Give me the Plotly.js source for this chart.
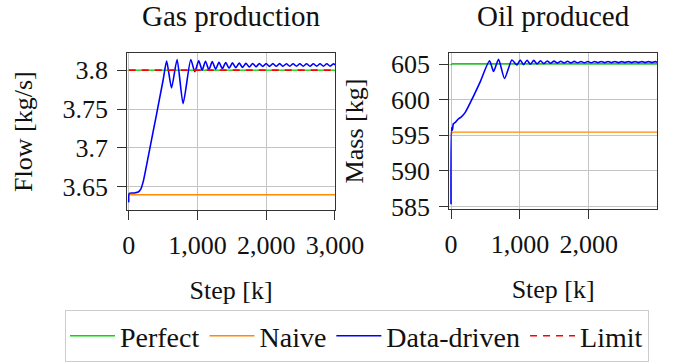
<!DOCTYPE html>
<html>
<head>
<meta charset="utf-8">
<script src="https://cdn.plot.ly/plotly-3.0.1.min.js"></script>
<style>html,body{margin:0;padding:0;background:#fff;}#chart{width:674px;height:362px;}</style>
</head>
<body>
<div id="chart"></div>
<script>
// ---------- Gas production (left) ----------
const gasPerfectX = [0, 3000];
const gasPerfectY = [3.8, 3.8];
const gasNaiveX = [0, 3000];
const gasNaiveY = [3.6398, 3.6398];
const gasLimitX = [0, 3000];
const gasLimitY = [3.8, 3.8];
const gasDataX = [0, 9, 60, 100, 139, 174, 212, 300, 400, 500, 552, 623, 704, 791, 903, 961, 1019,
  1068, 1117, 1166, 1215, 1264, 1313, 1362, 1411, 1460, 1509, 1558, 1607, 1656, 1705, 1754, 1803, 1852,
  1901, 1950, 1999, 2048, 2097, 2146, 2195, 2244, 2293, 2342, 2391, 2440, 2489, 2538, 2587, 2636, 2685,
  2734, 2783, 2832, 2881, 2930, 2979, 3000];
const gasDataY = [3.630, 3.6417, 3.6420, 3.6425, 3.6434, 3.6467, 3.657, 3.696, 3.741, 3.787, 3.8116,
  3.777, 3.8136, 3.757, 3.8136, 3.798, 3.8120,
  3.8000, 3.8115, 3.8005, 3.8110, 3.8012, 3.8102, 3.8018, 3.8097, 3.8025, 3.8093, 3.8030, 3.8090, 3.8035,
  3.8088, 3.8040, 3.8086, 3.8044, 3.8085, 3.8046, 3.8084, 3.8048, 3.8083, 3.8049, 3.8083, 3.8049, 3.8082,
  3.8050, 3.8082, 3.8050, 3.8082, 3.8050, 3.8082, 3.8050, 3.8081, 3.8051, 3.8081, 3.8051, 3.8081, 3.8051,
  3.8080, 3.8068];

// ---------- Oil produced (right) ----------
const oilPerfectX = [0, 15, 2990];
const oilPerfectY = [604.85, 605.07, 605.07];
const oilNaiveX = [0, 25, 2990];
const oilNaiveY = [595.1, 595.45, 595.45];
const oilDataX = [0, 8, 20, 33, 70, 106, 150, 204, 325, 422, 559, 618, 690, 777, 884, 957, 1005,
  1054, 1103, 1152, 1201, 1250, 1299, 1348, 1397, 1446, 1495, 1544, 1593, 1642, 1691, 1740, 1789, 1838,
  1887, 1936, 1985, 2034, 2083, 2132, 2181, 2230, 2279, 2328, 2377, 2426, 2475, 2524, 2573, 2622, 2671,
  2720, 2769, 2818, 2867, 2916, 2965, 2990];
const oilDataY = [585.3, 596.1, 595.7, 596.6, 596.9, 597.3, 597.6, 598.2, 600.5, 602.5, 605.5, 604.0, 605.7,
  603.0, 605.6, 604.9, 605.6,
  604.95, 605.58, 605.00, 605.55, 605.05, 605.50, 605.10, 605.47, 605.14, 605.45, 605.17, 605.43, 605.19,
  605.42, 605.20, 605.41, 605.21, 605.40, 605.22, 605.40, 605.22, 605.39, 605.23, 605.39, 605.23, 605.39,
  605.23, 605.39, 605.23, 605.38, 605.24, 605.38, 605.24, 605.38, 605.24, 605.38, 605.24, 605.38, 605.24,
  605.38, 605.30];

const gasYTicks = [3.65, 3.7, 3.75, 3.8];
const oilYTicks = [585, 590, 595, 600, 605];

const FONT = 'Liberation Serif, Times New Roman, serif';
const GREEN = '#00dd00', ORANGE = '#ff8c00', BLUE = '#0000ff', RED = '#ff0000';

const traces = [
  {x: gasPerfectX, y: gasPerfectY, name: 'Perfect', mode: 'lines', line: {color: GREEN, width: 1.4}, xaxis: 'x', yaxis: 'y', legendgroup: 'p'},
  {x: gasNaiveX, y: gasNaiveY, name: 'Naive', mode: 'lines', line: {color: ORANGE, width: 1.4}, xaxis: 'x', yaxis: 'y', legendgroup: 'n'},
  {x: gasDataX, y: gasDataY, name: 'Data-driven', mode: 'lines', line: {color: BLUE, width: 1.6, shape: 'spline', smoothing: 0.6}, xaxis: 'x', yaxis: 'y', legendgroup: 'd'},
  {x: gasLimitX, y: gasLimitY, name: 'Limit', mode: 'lines', line: {color: RED, width: 1.6, dash: '7px,6px'}, xaxis: 'x', yaxis: 'y', legendgroup: 'l'},
  {x: oilPerfectX, y: oilPerfectY, name: 'Perfect', mode: 'lines', line: {color: GREEN, width: 1.4}, xaxis: 'x2', yaxis: 'y2', legendgroup: 'p', showlegend: false},
  {x: oilNaiveX, y: oilNaiveY, name: 'Naive', mode: 'lines', line: {color: ORANGE, width: 1.4}, xaxis: 'x2', yaxis: 'y2', legendgroup: 'n', showlegend: false},
  {x: oilDataX, y: oilDataY, name: 'Data-driven', mode: 'lines', line: {color: BLUE, width: 1.6, shape: 'spline', smoothing: 0.6}, xaxis: 'x2', yaxis: 'y2', legendgroup: 'd', showlegend: false}
];

const axisCommon = {
  showline: true, mirror: true, linecolor: '#333', linewidth: 1,
  showgrid: true, gridcolor: '#c4c4c4', gridwidth: 1, zeroline: false,
  ticks: 'outside', ticklen: 9, tickcolor: '#333', tickwidth: 1,
  tickfont: {family: FONT, size: 26, color: '#111'}
};

const layout = {
  width: 674, height: 362,
  margin: {l: 0, r: 0, t: 0, b: 0},
  paper_bgcolor: '#fff', plot_bgcolor: '#fff',
  font: {family: FONT, size: 26, color: '#111'},
  showlegend: true,
  xaxis: Object.assign({}, axisCommon, {domain: [0.1889, 0.4970], range: [-20, 3000], tickvals: [0, 1000, 2000, 3000], tickformat: ',', anchor: 'y', ticklabelstandoff: 3,
    title: {text: 'Step [k]', font: {family: FONT, size: 26}, standoff: 21}}),
  yaxis: Object.assign({}, axisCommon, {domain: [0.3978, 0.8481], range: [3.620, 3.822], tickvals: gasYTicks, ticktext: gasYTicks.map(String), anchor: 'x', ticklabelstandoff: 4,
    title: {text: 'Flow [kg/s]', font: {family: FONT, size: 26}, standoff: 22}}),
  xaxis2: Object.assign({}, axisCommon, {domain: [0.6666, 0.9748], range: [-25, 2990], tickvals: [0, 1000, 2000], tickformat: ',', anchor: 'y2', ticklabelstandoff: 3,
    title: {text: 'Step [k]', font: {family: FONT, size: 26}, standoff: 21}}),
  yaxis2: Object.assign({}, axisCommon, {domain: [0.401, 0.8481], range: [584.63, 606.59], tickvals: oilYTicks, anchor: 'x2', ticklabelstandoff: 4,
    title: {text: 'Mass [kg]', font: {family: FONT, size: 26}, standoff: 19}}),
  legend: {orientation: 'h', x: 0.0964, y: 1 - 322/362, xanchor: 'left', yanchor: 'top',
    bordercolor: '#cccccc', borderwidth: 1, bgcolor: '#fff',
    font: {family: FONT, size: 28, color: '#111'}, tracegroupgap: 0, itemwidth: 45},
  annotations: [
    {text: 'Gas production', xref: 'paper', yref: 'paper', x: 0.3430, y: 1 - 17/362, xanchor: 'center', yanchor: 'middle', showarrow: false, font: {family: FONT, size: 29, color: '#111'}},
    {text: 'Oil produced', xref: 'paper', yref: 'paper', x: 0.8207, y: 1 - 17/362, xanchor: 'center', yanchor: 'middle', showarrow: false, font: {family: FONT, size: 29, color: '#111'}}
  ]
};

Plotly.newPlot('chart', traces, layout, {displayModeBar: false, staticPlot: true});
</script>
</body>
</html>
